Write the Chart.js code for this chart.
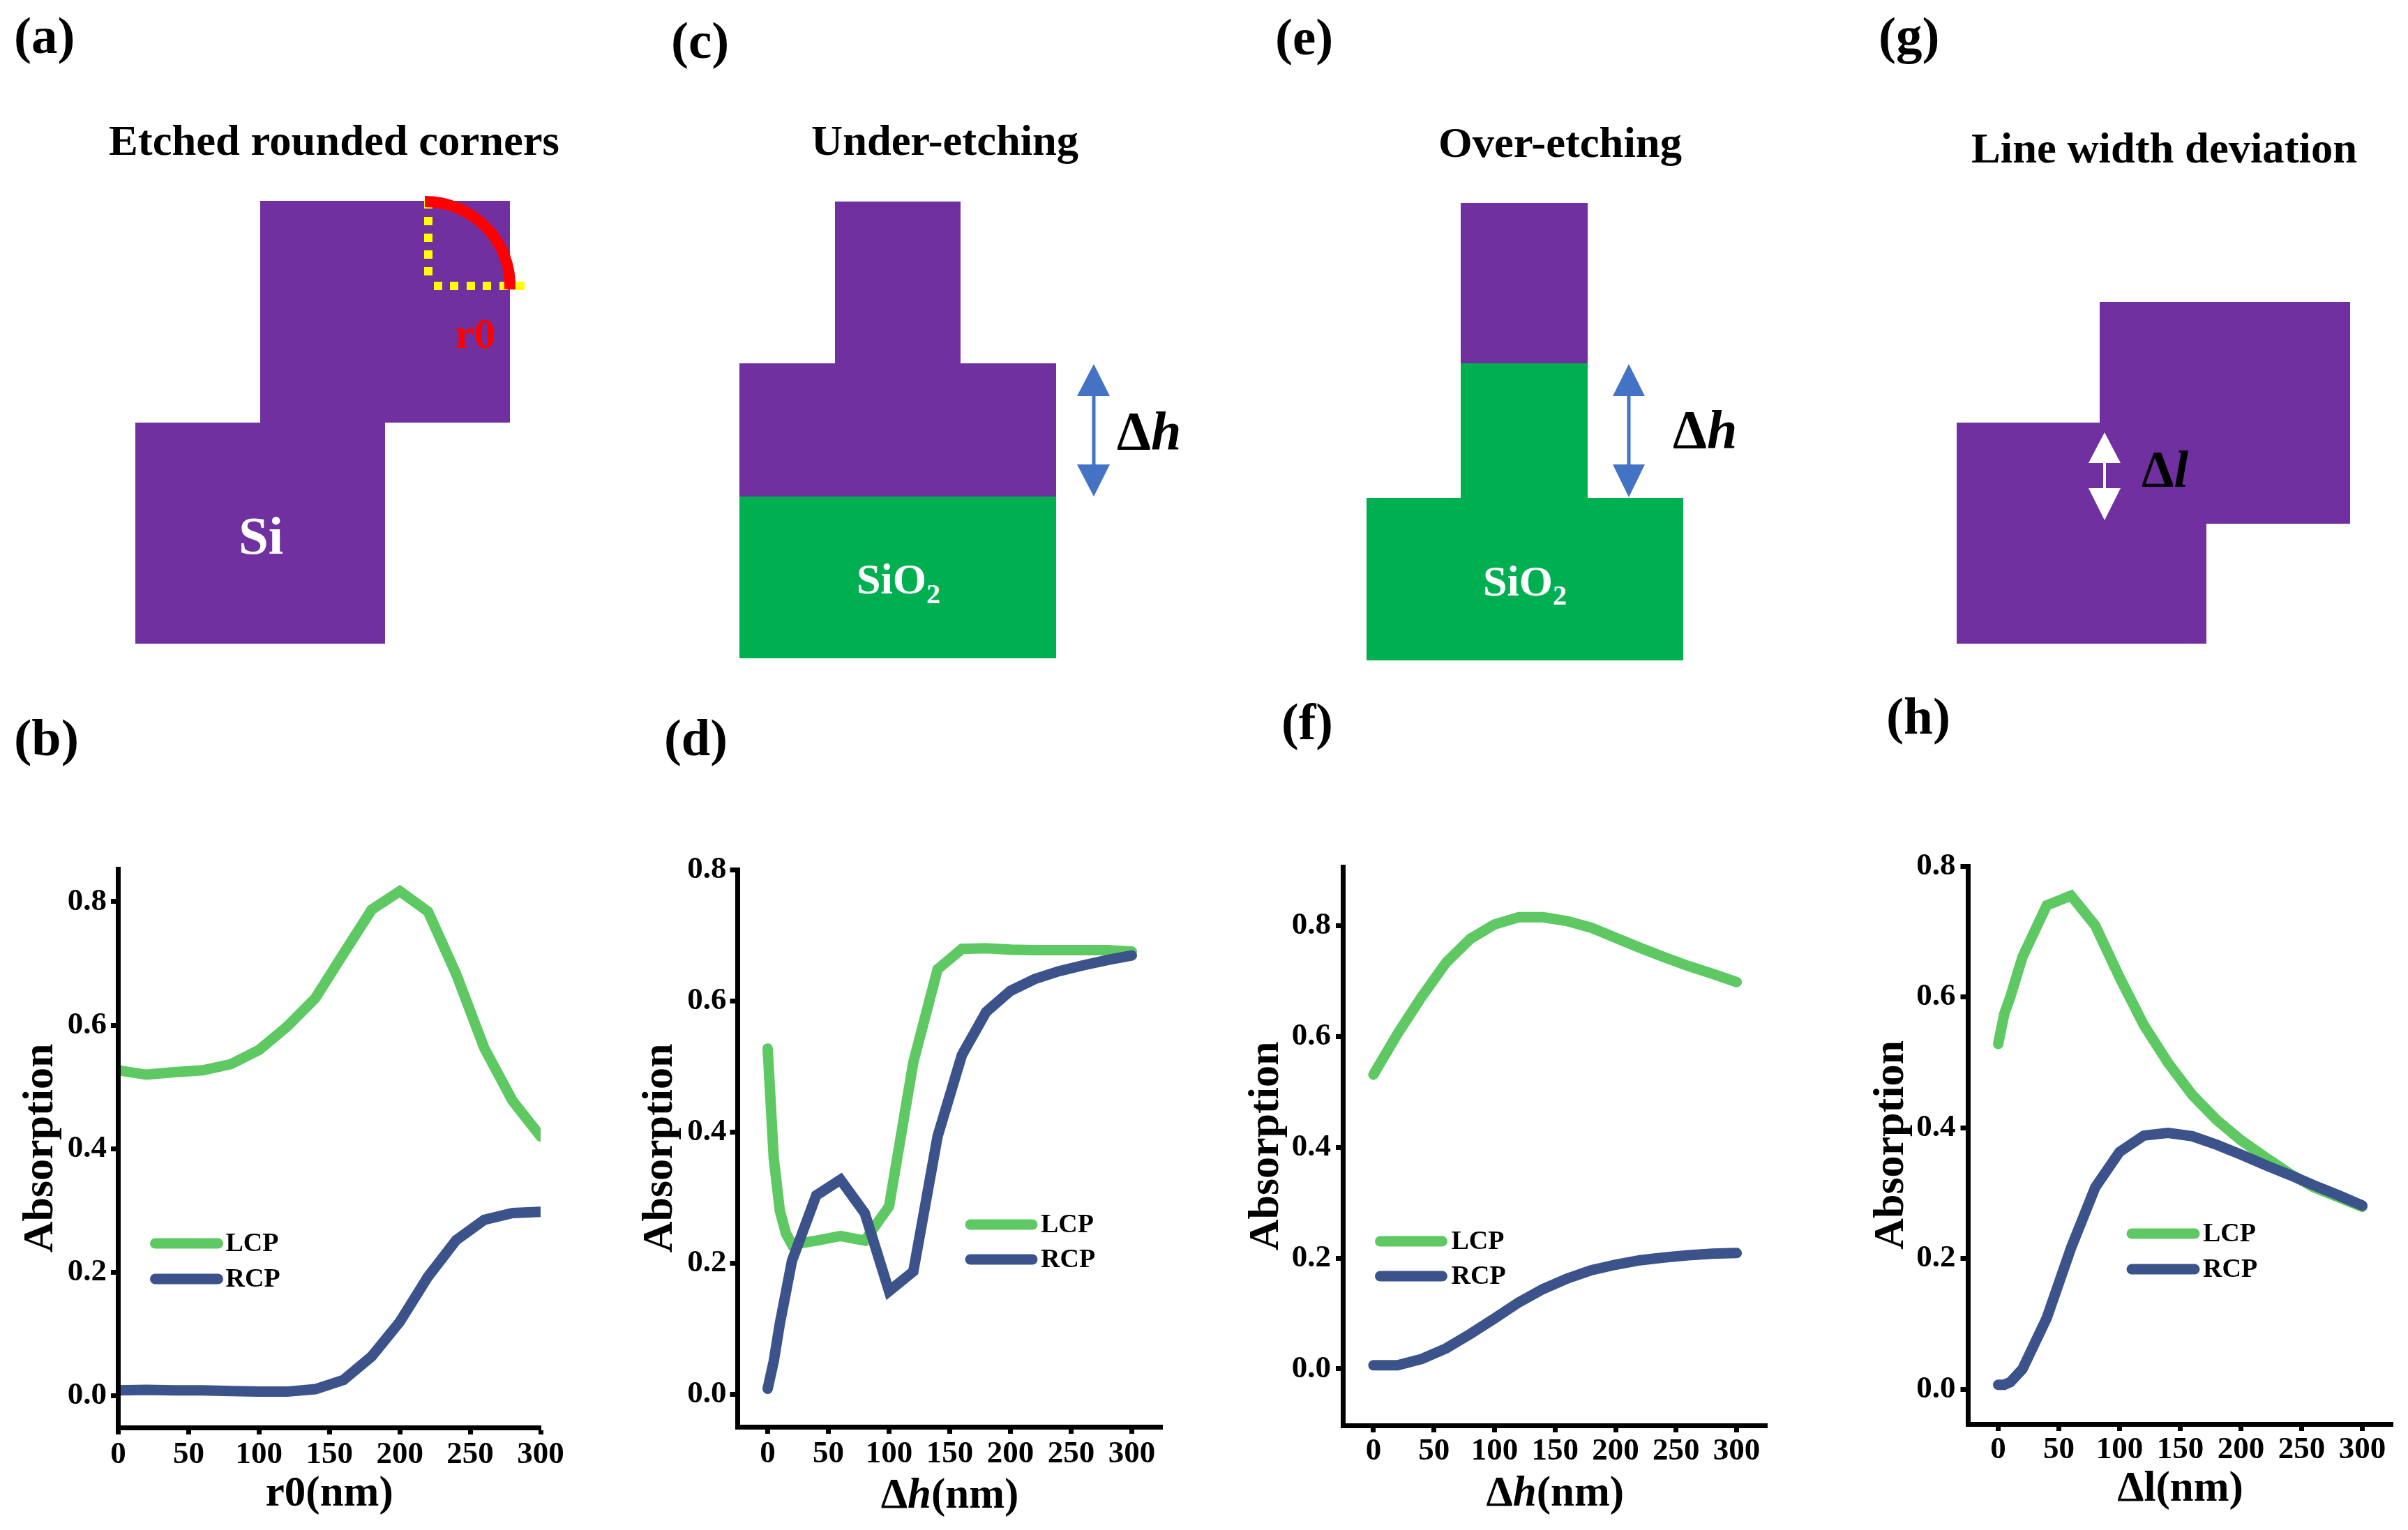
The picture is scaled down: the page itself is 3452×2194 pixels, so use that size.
<!DOCTYPE html>
<html>
<head>
<meta charset="utf-8">
<title>Fabrication tolerance panels</title>
<script src="https://cdn.jsdelivr.net/npm/chart.js@4"></script>
<style>
html,body{margin:0;padding:0;background:#fff;width:3452px;height:2194px;overflow:hidden}
canvas{position:absolute;display:block}
svg{position:absolute;left:0;top:0}
svg text{font-family:"Liberation Serif",serif;font-weight:bold}
</style>
</head>
<body>
<svg width="3452" height="2194" viewBox="0 0 3452 2194" xmlns="http://www.w3.org/2000/svg">
  <!-- panel letters -->
  <g font-size="75" fill="#000">
    <text x="20" y="76">(a)</text>
    <text x="962" y="83">(c)</text>
    <text x="1828" y="78">(e)</text>
    <text x="2693" y="76">(g)</text>
    <text x="20" y="1083" textLength="93" lengthAdjust="spacingAndGlyphs">(b)</text>
    <text x="952" y="1083" textLength="91" lengthAdjust="spacingAndGlyphs">(d)</text>
    <text x="1837" y="1060" textLength="74" lengthAdjust="spacingAndGlyphs">(f)</text>
    <text x="2704" y="1052" textLength="92" lengthAdjust="spacingAndGlyphs">(h)</text>
  </g>
  <!-- schematic titles -->
  <g font-size="62" fill="#000">
    <text x="156" y="222" textLength="646" lengthAdjust="spacingAndGlyphs">Etched rounded corners</text>
    <text x="1163" y="222" textLength="383" lengthAdjust="spacingAndGlyphs">Under-etching</text>
    <text x="2062" y="225" textLength="349" lengthAdjust="spacingAndGlyphs">Over-etching</text>
    <text x="2826" y="233" textLength="553" lengthAdjust="spacingAndGlyphs">Line width deviation</text>
  </g>
  <!-- (a) -->
  <rect x="373" y="288" width="358" height="318" fill="#7030A0"/>
  <rect x="194" y="606" width="358" height="317" fill="#7030A0"/>
  <g fill="#FFFF00">
    <rect x="608" y="287" width="12" height="12"/><rect x="608" y="311" width="12" height="12"/>
    <rect x="608" y="335" width="12" height="12"/><rect x="608" y="359" width="12" height="12"/>
    <rect x="608" y="383" width="12" height="12"/>
    <rect x="622" y="404" width="12" height="12"/><rect x="645" y="404" width="12" height="12"/>
    <rect x="669" y="404" width="12" height="12"/><rect x="692" y="404" width="12" height="12"/>
    <rect x="716" y="404" width="12" height="12"/><rect x="740" y="404" width="12" height="12"/>
  </g>
  <path d="M609 289 A122 121 0 0 1 731 415" fill="none" stroke="#FF0000" stroke-width="16"/>
  <text x="652" y="499" font-size="62" fill="#FF0000">r0</text>
  <text x="342" y="794" font-size="77" fill="#fff">Si</text>
  <!-- (c) -->
  <rect x="1197" y="289" width="180" height="232" fill="#7030A0"/>
  <rect x="1060" y="521" width="454" height="191" fill="#7030A0"/>
  <rect x="1060" y="712" width="454" height="232" fill="#00B050"/>
  <line x1="1568" y1="560" x2="1568" y2="675" stroke="#4472C4" stroke-width="5"/>
  <polygon points="1568,522 1544,568 1591,568" fill="#4472C4"/>
  <polygon points="1568,712 1544,666 1591,666" fill="#4472C4"/>
  <text x="1601" y="644" font-size="78" fill="#000">Δ<tspan font-style="italic">h</tspan></text>
  <text x="1228" y="851" font-size="62" fill="#fff">SiO<tspan font-size="40" dy="14">2</tspan></text>
  <!-- (e) -->
  <rect x="2094" y="291" width="182" height="230" fill="#7030A0"/>
  <rect x="2094" y="521" width="182" height="193" fill="#00B050"/>
  <rect x="1959" y="714" width="454" height="233" fill="#00B050"/>
  <line x1="2335" y1="560" x2="2335" y2="675" stroke="#4472C4" stroke-width="5"/>
  <polygon points="2335,522 2312,568 2358,568" fill="#4472C4"/>
  <polygon points="2335,713 2312,666 2358,666" fill="#4472C4"/>
  <text x="2398" y="642" font-size="78" fill="#000">Δ<tspan font-style="italic">h</tspan></text>
  <text x="2126" y="854" font-size="62" fill="#fff">SiO<tspan font-size="40" dy="13">2</tspan></text>
  <!-- (g) -->
  <rect x="3010" y="433" width="359" height="318" fill="#7030A0"/>
  <rect x="2805" y="606" width="358" height="317" fill="#7030A0"/>
  <line x1="3017" y1="655" x2="3017" y2="710" stroke="#fff" stroke-width="4"/>
  <polygon points="3017,620 2994,664 3040,664" fill="#fff"/>
  <polygon points="3017,746 2994,700 3040,700" fill="#fff"/>
  <text x="3070" y="698" font-size="74" fill="#000">Δ<tspan font-style="italic">l</tspan></text>
</svg>

<canvas id="chartB"></canvas>
<canvas id="chartD"></canvas>
<canvas id="chartF"></canvas>
<canvas id="chartH"></canvas>

<script>
// ---------- tick labels ----------
const xTickValues = [0, 50, 100, 150, 200, 250, 300];
const yTickValues = [0.0, 0.2, 0.4, 0.6, 0.8];
const seriesNames = ['LCP', 'RCP'];

// ---------- (b) etched rounded corners ----------
const xB = [0, 20, 40, 60, 80, 100, 120, 140, 160, 180, 200, 220, 240, 260, 280, 300];
const lcpB = [0.527, 0.520, 0.524, 0.527, 0.537, 0.560, 0.598, 0.644, 0.716, 0.787, 0.817, 0.784, 0.683, 0.563, 0.478, 0.420];
const rcpB = [0.009, 0.010, 0.009, 0.009, 0.008, 0.007, 0.007, 0.011, 0.026, 0.064, 0.120, 0.193, 0.252, 0.285, 0.296, 0.298];

// ---------- (d) under-etching ----------
const xD = [0, 5, 10, 15, 20, 40, 60, 80, 100, 120, 140, 160, 180, 200, 220, 240, 260, 280, 300];
const lcpD = [0.527, 0.360, 0.280, 0.245, 0.228, 0.234, 0.241, 0.234, 0.286, 0.506, 0.648, 0.679, 0.680, 0.678, 0.677, 0.677, 0.677, 0.677, 0.675];
const rcpD = [0.008, 0.050, 0.107, 0.155, 0.203, 0.303, 0.327, 0.276, 0.157, 0.187, 0.393, 0.517, 0.583, 0.615, 0.633, 0.645, 0.654, 0.662, 0.669];

// ---------- (f) over-etching ----------
const xF = [0, 20, 40, 60, 80, 100, 120, 140, 160, 180, 200, 220, 240, 260, 280, 300];
const lcpF = [0.531, 0.605, 0.672, 0.733, 0.776, 0.802, 0.815, 0.815, 0.808, 0.796, 0.778, 0.760, 0.743, 0.727, 0.713, 0.698];
const rcpF = [0.0065, 0.0065, 0.018, 0.037, 0.063, 0.091, 0.120, 0.144, 0.163, 0.178, 0.188, 0.196, 0.201, 0.205, 0.208, 0.209];

// ---------- (h) line width deviation ----------
const xH = [0, 5, 10, 20, 40, 60, 80, 100, 120, 140, 160, 180, 200, 220, 240, 260, 280, 300];
const lcpH = [0.528, 0.574, 0.600, 0.661, 0.740, 0.755, 0.709, 0.630, 0.557, 0.499, 0.450, 0.412, 0.381, 0.355, 0.330, 0.309, 0.294, 0.279];
const rcpH = [0.007, 0.007, 0.011, 0.031, 0.109, 0.216, 0.309, 0.363, 0.388, 0.392, 0.387, 0.374, 0.359, 0.343, 0.328, 0.312, 0.297, 0.281];

const SERIF = '"Liberation Serif", serif';
const LCP_COLOR = '#5EC962';
const RCP_COLOR = '#3B528B';

const pairUp = (xs, ys) => xs.map((x, i) => ({ x, y: ys[i] }));

// Legend drawn from the datasets themselves: thick round-capped key + bold label.
const lineKeyLegend = {
  id: 'lineKeyLegend',
  afterDatasetsDraw(chart, _a, opts) {
    const { ctx, canvas } = chart;
    const ox = parseFloat(canvas.style.left), oy = parseFloat(canvas.style.top);
    ctx.save();
    chart.data.datasets.forEach((ds, i) => {
      const y = opts.ys[i] - oy;
      ctx.beginPath();
      ctx.lineCap = 'round';
      ctx.lineWidth = 15;
      ctx.strokeStyle = ds.borderColor;
      ctx.moveTo(opts.x0 - ox + 7, y);
      ctx.lineTo(opts.x1 - ox - 7, y);
      ctx.stroke();
      ctx.fillStyle = '#000';
      ctx.font = 'bold 38px ' + SERIF;
      ctx.textBaseline = 'middle';
      ctx.textAlign = 'left';
      ctx.fillText(ds.label, opts.tx - ox, y + 1);
    });
    ctx.restore();
  }
};

// Axis title with an italic variable (Δh), taken from the scale's title text.
const richXTitle = {
  id: 'richXTitle',
  afterDraw(chart, _a, opts) {
    if (!opts.italic) return;
    const { ctx, canvas, chartArea } = chart;
    const oy = parseFloat(canvas.style.top);
    const text = chart.options.scales.x.title.text;
    const at = text.indexOf(opts.italic);
    const runs = [[text.slice(0, at), 'bold'], [opts.italic, 'italic bold'], [text.slice(at + opts.italic.length), 'bold']];
    const fontOf = s => s + ' 61px ' + SERIF;
    ctx.save();
    ctx.fillStyle = '#000';
    ctx.textBaseline = 'alphabetic';
    ctx.textAlign = 'left';
    let w = 0;
    runs.forEach(r => { ctx.font = fontOf(r[1]); w += ctx.measureText(r[0]).width; });
    let x = (chartArea.left + chartArea.right) / 2 - w / 2;
    runs.forEach(r => { ctx.font = fontOf(r[1]); ctx.fillText(r[0], x, opts.baseline - oy); x += ctx.measureText(r[0]).width; });
    ctx.restore();
  }
};

function makePanel(id, p) {
  const canvas = document.getElementById(id);
  const mT = 40, mR = 50;
  const mL = p.box.l - (p.yTitleBaseX - 58);
  const mB = p.xTitleBaseline + 16 - p.box.b;
  const W = p.box.r - p.box.l + mL + mR;
  const H = p.box.b - p.box.t + mT + mB;
  canvas.width = W; canvas.height = H;
  canvas.style.width = W + 'px'; canvas.style.height = H + 'px';
  canvas.style.left = (p.box.l - mL) + 'px';
  canvas.style.top = (p.box.t - mT) + 'px';
  const tickFont = { family: SERIF, size: 45, weight: 'bold' };
  const titleFont = (size) => ({ family: SERIF, size, weight: 'bold', lineHeight: 1.2 });
  new Chart(canvas, {
    type: 'line',
    data: {
      datasets: [
        { label: seriesNames[0], data: pairUp(p.xs, p.lcp), borderColor: LCP_COLOR, order: 2 },
        { label: seriesNames[1], data: pairUp(p.xs, p.rcp), borderColor: RCP_COLOR, order: 1 }
      ].map(d => Object.assign(d, {
        borderWidth: 15, pointRadius: 0, tension: 0, fill: false, clip: 0,
        borderCapStyle: 'round', borderJoinStyle: 'miter', backgroundColor: 'transparent'
      }))
    },
    options: {
      responsive: false, animation: false, devicePixelRatio: 1,
      layout: { padding: { top: mT, right: mR, left: 0, bottom: 0 } },
      plugins: {
        legend: { display: false }, tooltip: { enabled: false }, title: { display: false },
        lineKeyLegend: p.legend,
        richXTitle: { italic: p.xItalic || null, baseline: p.xTitleBaseline }
      },
      scales: {
        x: {
          type: 'linear', min: p.xMin, max: p.xMax,
          afterFit(s) { s.height = mB; },
          afterBuildTicks(s) { s.ticks = xTickValues.map(value => ({ value })); },
          border: { display: true, color: '#000', width: 7, z: 1 },
          grid: { drawOnChartArea: false, drawTicks: true, tickLength: 10, tickWidth: 7, tickColor: '#000' },
          ticks: { font: tickFont, color: '#000', padding: p.xPad, maxRotation: 0, autoSkip: false, callback: v => String(v) },
          title: { display: !p.xItalic, text: p.xTitle, color: '#000', font: titleFont(61), padding: 0 }
        },
        y: {
          type: 'linear', min: p.yMin, max: p.yMax,
          afterFit(s) { s.width = mL; },
          afterBuildTicks(s) { s.ticks = yTickValues.map(value => ({ value })); },
          border: { display: true, color: '#000', width: 7, z: 1 },
          grid: { drawOnChartArea: false, drawTicks: true, tickLength: 10.5, tickWidth: 7, tickColor: '#000' },
          ticks: { font: tickFont, color: '#000', padding: p.yPad, autoSkip: false, callback: v => v.toFixed(1) },
          title: { display: true, text: 'Absorption', color: '#000', font: titleFont(62), padding: 0 }
        }
      }
    },
    plugins: [lineKeyLegend, richXTitle]
  });
}

makePanel('chartB', {
  box: { l: 169, r: 775, t: 1246, b: 2047 }, xs: xB, lcp: lcpB, rcp: rcpB,
  xMin: 0, xMax: 300, yMin: -0.051, yMax: 0.853, xPad: 2, yPad: 6,
  xTitle: 'r0(nm)', xTitleBaseline: 2164, yTitleBaseX: 79.5,
  legend: { x0: 215, x1: 319, ys: [1783, 1834], tx: 323 }
});
makePanel('chartD', {
  box: { l: 1057, r: 1666, t: 1247, b: 2046 }, xs: xD, lcp: lcpD, rcp: rcpD,
  xMin: -25, xMax: 325, yMin: -0.05, yMax: 0.8, xPad: 2, yPad: 5,
  xTitle: 'Δh(nm)', xItalic: 'h', xTitleBaseline: 2162, yTitleBaseX: 968,
  legend: { x0: 1384, x1: 1487, ys: [1756, 1806], tx: 1492 }
});
makePanel('chartF', {
  box: { l: 1925, r: 2533, t: 1243, b: 2044 }, xs: xF, lcp: lcpF, rcp: rcpF,
  xMin: -25, xMax: 325, yMin: -0.102, yMax: 0.906, xPad: 0, yPad: 7,
  xTitle: 'Δh(nm)', xItalic: 'h', xTitleBaseline: 2159, yTitleBaseX: 1836.5,
  legend: { x0: 1971, x1: 2074, ys: [1780, 1830], tx: 2080 }
});
makePanel('chartH', {
  box: { l: 2821, r: 3430, t: 1242, b: 2042 }, xs: xH, lcp: lcpH, rcp: rcpH,
  xMin: -25, xMax: 325, yMin: -0.053, yMax: 0.8, xPad: 0, yPad: 7,
  xTitle: 'Δl(nm)', xTitleBaseline: 2157, yTitleBaseX: 2733,
  legend: { x0: 3049, x1: 3153, ys: [1769, 1820], tx: 3158 }
});
</script>
</body>
</html>
